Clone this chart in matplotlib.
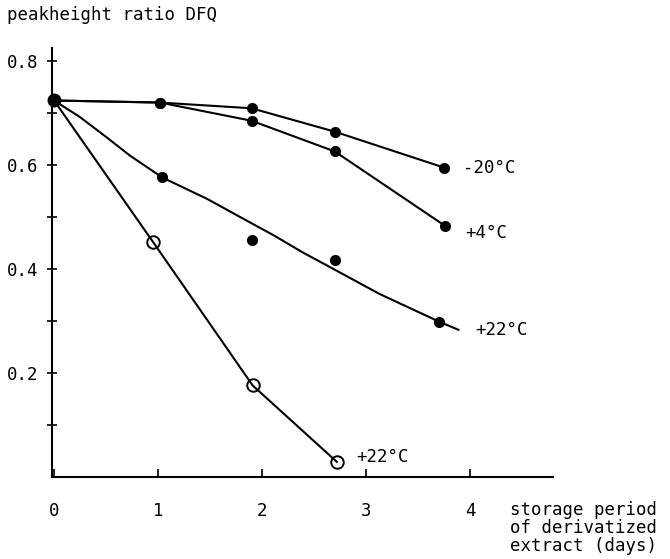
import matplotlib
matplotlib.use("Agg")
import matplotlib.pyplot as plt

# ──────────────────────────────────────────────
#  Data
# ──────────────────────────────────────────────
# -20 °C (filled dots)
days_m20  = [0.0, 1.02, 1.90, 2.70, 3.75]
ratio_m20 = [0.724, 0.720, 0.709, 0.664, 0.595]

# +4 °C (filled dots)
days_p4  = [0.0, 1.02, 1.90, 2.70, 3.76]
ratio_p4 = [0.724, 0.720, 0.685, 0.626, 0.483]

# +22 °C (filled dots) - measured points
days_p22  = [0.0, 1.04, 1.90, 2.70, 3.70]
ratio_p22 = [0.724, 0.576, 0.456, 0.417, 0.299]
# +22 °C (filled dots) - hand drawn fit line
fit_days_p22  = [0.0, 0.25, 0.50, 0.73, 1.04, 1.47, 1.88, 2.11, 2.39, 2.65, 3.13, 3.70, 3.89]
fit_ratio_p22 = [0.724, 0.692, 0.654, 0.618, 0.576, 0.535, 0.490, 0.465, 0.432, 0.404, 0.352, 0.299, 0.283]

# +22 °C (open circles)
days_open  = [0.0, 0.955, 1.91, 2.72]
ratio_open = [0.724, 0.451, 0.176, 0.029]

series_labels = ["-20°C", "+4°C", "+22°C", "+22°C"]
label_pos = [(3.93, 0.594), (3.95, 0.469), (4.05, 0.283), (2.91, 0.038)]

y_ticks = [0.1, 0.2, 0.3, 0.4, 0.5, 0.6, 0.7, 0.8]
y_tick_labels = ["", "0.2", "", "0.4", "", "0.6", "", "0.8"]
x_ticks = [0, 1, 2, 3, 4]

FONT = "DejaVu Sans Mono"
FS = 12.5

fig = plt.figure(figsize=(6.7, 5.59), dpi=100)
ax = fig.add_axes([0.0776, 0.1467, 0.748, 0.7675])
ax.set_xlim(-0.02, 4.80)
ax.set_ylim(0, 0.825)

ink = "black"
lw = 1.5

ax.plot(days_m20, ratio_m20, color=ink, lw=lw, marker="o", ms=7, clip_on=False)
ax.plot(days_p4, ratio_p4, color=ink, lw=lw, marker="o", ms=7, clip_on=False)
ax.plot(fit_days_p22, fit_ratio_p22, color=ink, lw=lw, clip_on=False)
ax.plot(days_p22, ratio_p22, linestyle="none", color=ink, marker="o", ms=7, clip_on=False)
ax.plot(days_open, ratio_open, color=ink, lw=lw, clip_on=False)
ax.plot(days_open[1:], ratio_open[1:], linestyle="none", marker="o", ms=9,
        mfc="none", mec=ink, mew=1.4, clip_on=False)
# the shared starting point is drawn a bit heavier
ax.plot([days_m20[0]], [ratio_m20[0]], marker="o", ms=9, color=ink, clip_on=False)

for txt, (x, y) in zip(series_labels, label_pos):
    ax.text(x, y, txt, family=FONT, fontsize=FS, va="center", ha="left")

# axes styling
for side in ["top", "right"]:
    ax.spines[side].set_visible(False)
ax.spines["left"].set_linewidth(1.5)
ax.spines["bottom"].set_linewidth(1.5)

ax.set_yticks(y_ticks)
ax.set_yticklabels(y_tick_labels, family=FONT, fontsize=FS)
ax.tick_params(axis="y", direction="inout", length=7, width=1.2, pad=6)

ax.set_xticks(x_ticks)
ax.set_xticklabels([str(t) for t in x_ticks], family=FONT, fontsize=FS)
ax.tick_params(axis="x", direction="in", length=6, width=1.2, pad=18)

fig.text(7 / 670, 1 - 15 / 559, "peakheight ratio DFQ", family=FONT, fontsize=FS,
         ha="left", va="center")
fig.text(510 / 670, 1 - 501 / 559, "storage period\nof derivatized\nextract (days)",
         family=FONT, fontsize=FS, ha="left", va="top", linespacing=1.0)

plt.savefig("out.png", dpi=100)
